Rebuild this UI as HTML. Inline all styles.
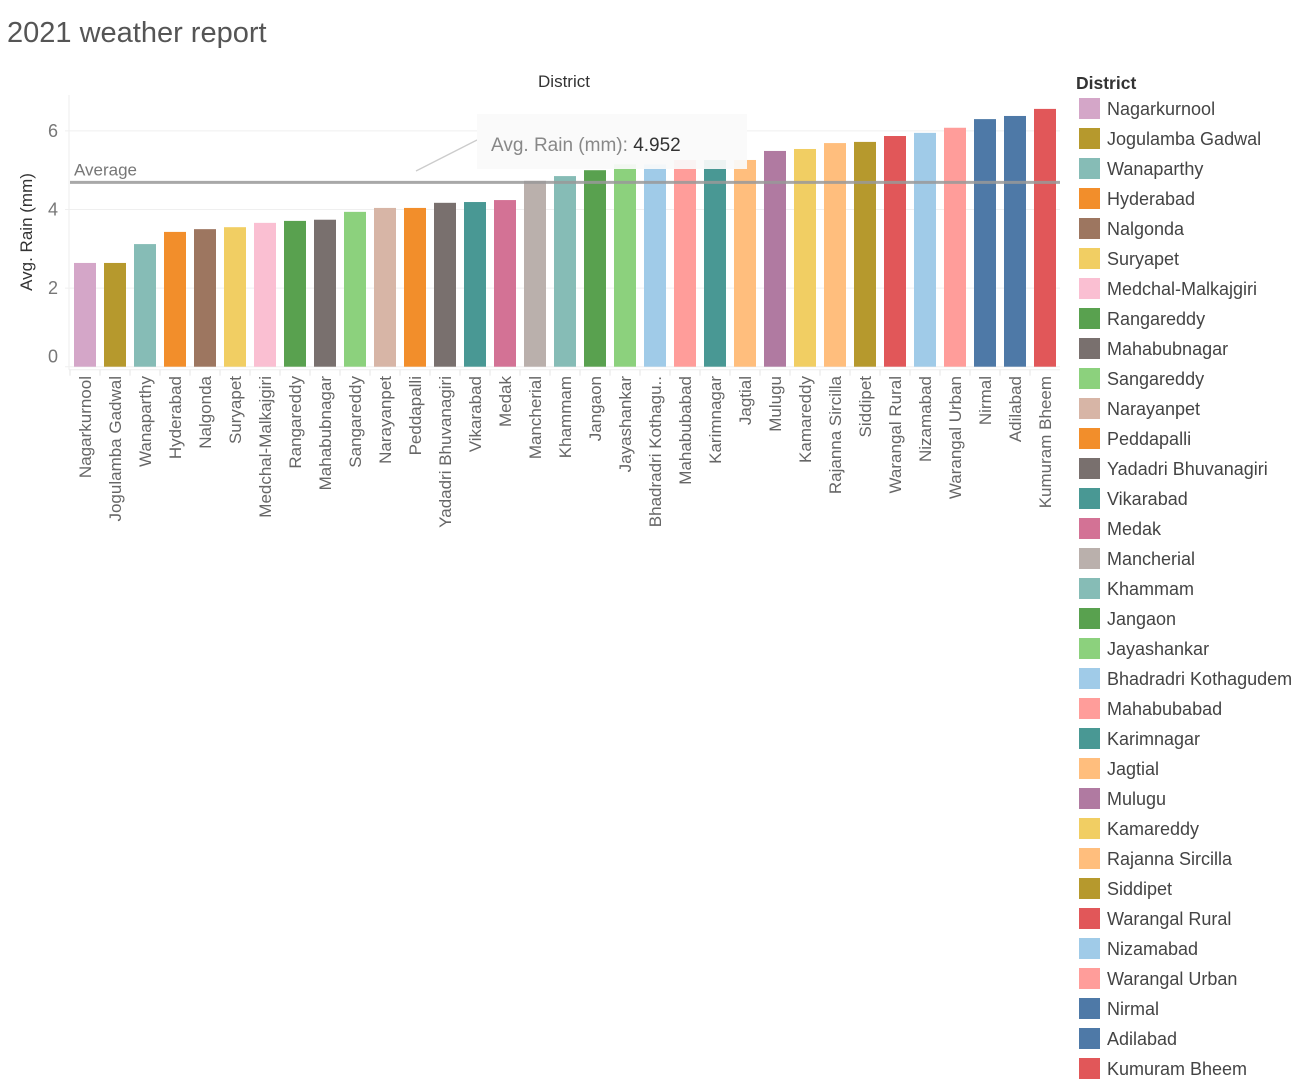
<!DOCTYPE html>
<html><head><meta charset="utf-8"><style>
body{margin:0;background:#fff;font-family:"Liberation Sans","DejaVu Sans",sans-serif;}
svg text{font-family:"Liberation Sans","DejaVu Sans",sans-serif;}
</style></head><body>
<svg id="c" width="1311" height="1083" xmlns="http://www.w3.org/2000/svg">
<text x="7" y="42" font-size="29" fill="#555">2021 weather report</text>
<text x="564" y="87" font-size="17" fill="#333" text-anchor="middle">District</text>
<text transform="translate(32,232) rotate(-90)" font-size="17" fill="#333" text-anchor="middle">Avg. Rain (mm)</text>
<g id="grid"></g><g id="bars"></g><g id="xl"></g><g id="leg"></g>
</svg>
<script>
const districts=["Nagarkurnool","Jogulamba Gadwal","Wanaparthy","Hyderabad","Nalgonda","Suryapet","Medchal-Malkajgiri","Rangareddy","Mahabubnagar","Sangareddy","Narayanpet","Peddapalli","Yadadri Bhuvanagiri","Vikarabad","Medak","Mancherial","Khammam","Jangaon","Jayashankar","Bhadradri Kothagudem","Mahabubabad","Karimnagar","Jagtial","Mulugu","Kamareddy","Rajanna Sircilla","Siddipet","Warangal Rural","Nizamabad","Warangal Urban","Nirmal","Adilabad","Kumuram Bheem"];
const rain=[2.64,2.64,3.12,3.43,3.50,3.55,3.66,3.71,3.74,3.94,4.04,4.04,4.17,4.19,4.24,4.73,4.85,5.0,5.15,5.15,5.26,5.26,5.26,5.49,5.54,5.69,5.72,5.87,5.95,6.08,6.30,6.38,6.56];
const colors=["#d4a6c8","#b6992d","#86bcb6","#f28e2b","#9d7660","#f1ce63","#fabfd2","#59a14f","#79706e","#8cd17d","#d7b5a6","#f28e2b","#79706e","#499894","#d37295","#bab0ac","#86bcb6","#59a14f","#8cd17d","#a0cbe8","#ff9d9a","#499894","#ffbe7d","#b07aa1","#f1ce63","#ffbe7d","#b6992d","#e15759","#a0cbe8","#ff9d9a","#4e79a7","#4e79a7","#e15759"];
const yTicks=[0,2,4,6];
const avgValue=4.69;
const tooltipValue="4.952";
const NS="http://www.w3.org/2000/svg";
const y0=366.7,py=39.3,x0=70,step=30,bw=22;
const Y=v=>y0-v*py, X=i=>x0+15+i*step;
function mk(t,a,p){const e=document.createElementNS(NS,t);for(const k in a)e.setAttribute(k,a[k]);p.appendChild(e);return e;}
const grid=document.getElementById('grid'),bars=document.getElementById('bars'),xl=document.getElementById('xl'),leg=document.getElementById('leg'),svg=document.getElementById('c');
const right=X(districts.length-1)+15;
mk('line',{x1:x0-1,y1:95,x2:x0-1,y2:y0+3,stroke:'#eee','stroke-width':1},grid);
mk('line',{x1:x0-1,y1:y0+3,x2:right,y2:y0+3,stroke:'#eee','stroke-width':1},grid);
yTicks.forEach(v=>{
 const gl=mk('line',{x1:x0-5,y1:Y(v),x2:right,y2:Y(v),stroke:'#efefef','stroke-width':1},grid);
 
 
 const t=mk('text',{x:58,y:Y(v)+6-(v===0?10:0),'font-size':18,fill:'#777','text-anchor':'end'},grid);t.textContent=v;
 
 
});
districts.forEach((d,i)=>{
 const r=mk('rect',{x:X(i)-bw/2,y:Y(rain[i]),width:bw,height:rain[i]*py,fill:colors[i]},bars);
 
 
 mk('line',{x1:X(i)-15,y1:y0+3,x2:X(i)-15,y2:y0+9,stroke:'#e6e6e6'},xl);
 let lab=d==="Bhadradri Kothagudem"?"Bhadradri Kothagu..":d;
 const t=mk('text',{transform:`translate(${X(i)+6},376) rotate(-90)`,'font-size':17,fill:'#666','text-anchor':'end'},xl);t.textContent=lab;
 
 
 const ly=98+i*30;
 const s=mk('rect',{x:1079,y:ly,width:21,height:21,fill:colors[i]},leg);
 
 
 const lt=mk('text',{x:1107,y:ly+17,'font-size':18,fill:'#444'},leg);lt.textContent=d;
 
 
});
const lt0=mk('text',{x:1076,y:89,'font-size':17.5,fill:'#333','font-weight':'bold'},leg);lt0.textContent='District';


const al=mk('line',{x1:x0,y1:Y(avgValue),x2:right,y2:Y(avgValue),stroke:'#999','stroke-width':3,'stroke-opacity':0.85},svg);


const at=mk('text',{x:74,y:Y(avgValue)-7,'font-size':17,fill:'#777'},svg);at.textContent='Average';


mk('line',{x1:416,y1:171,x2:477,y2:140,stroke:'#ccc','stroke-width':1.3},svg);
const tb=mk('rect',{x:477,y:114,width:270,height:55,fill:'#fafafa','fill-opacity':0.93},svg);


const tt=mk('text',{x:491,y:151,'font-size':19,fill:'#888'},svg);
tt.textContent='Avg. Rain (mm): ';
const ts=mk('tspan',{fill:'#333'},tt);ts.textContent=tooltipValue;


</script>
</body></html>
